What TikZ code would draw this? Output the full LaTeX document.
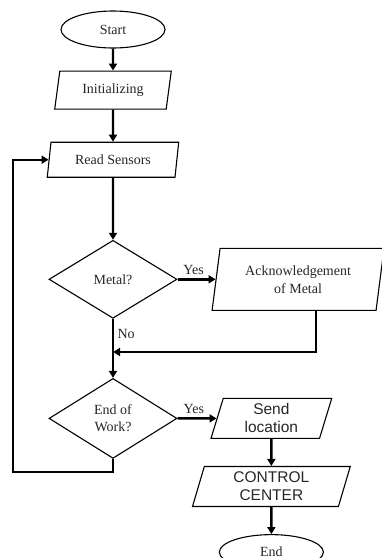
\documentclass[tikz,border=0pt]{standalone}
\usepackage{fontspec}
\setmainfont{Liberation Serif}
\newfontfamily\sansfont{Liberation Sans}
\usetikzlibrary{positioning, arrows.meta, shapes.geometric}

\begin{document}
\begin{tikzpicture}[x=1pt, y=1pt, node distance=30pt, auto,
    term/.style={ellipse, draw, line width=1.1pt, inner sep=0pt, minimum width=104pt, minimum height=37pt, text=black!85, font=\fontsize{14}{17}\selectfont},
    io/.style={trapezium, trapezium left angle=77, trapezium right angle=103, trapezium stretches=true, draw, line width=1.1pt, inner sep=0pt, align=center, text=black!85, font=\fontsize{14}{18}\selectfont},
    decide/.style={diamond, draw, line width=1.1pt, inner sep=0pt, minimum width=128pt, minimum height=78pt, align=center, text=black!85, font=\fontsize{14}{17}\selectfont},
    line/.style={draw, line width=2.4pt, -{Triangle[length=7pt,width=8pt]}},
    lbl/.style={text=black!85, font=\fontsize{14}{17}\selectfont}
]
    \useasboundingbox (0,0) rectangle (382,-558);

    \node[term] (start) at (113,-29.5) {Start};
    \node[io, minimum width=117pt, minimum height=38pt, below=22pt of start] (init) {Initializing};
    \node[io, minimum width=132pt, minimum height=35pt, below=32pt of init] (read) {Read Sensors};
    \node[decide, below=62pt of read] (metal) {Metal?};
    \node[io, minimum width=172pt, minimum height=62pt, trapezium left angle=79, trapezium right angle=101, right=38pt of metal] (ack) {Acknowledgement\\of Metal};
    \node[decide, minimum height=80pt, below=59pt of metal] (work) {End of\\Work?};
    \node[io, minimum width=121pt, minimum height=40pt, font=\sansfont\fontsize{15.5}{18}\selectfont, right=39pt of work] (send) {Send\\location};
    \node[io, minimum width=158pt, minimum height=40pt, font=\sansfont\fontsize{15.5}{18}\selectfont, below=27pt of send] (ctrl) {CONTROL\\CENTER};
    \node[term, minimum height=35pt, below=27pt of ctrl] (end) {End};

    \coordinate (join) at (metal.center |- 0,-352);
    \coordinate (back) at (13,-472);

    \draw[line] (start) -- (init);
    \draw[line] (init) -- (read);
    \draw[line] (read) -- (metal);
    \draw[line] (metal) -- node[lbl, pos=0.42] {Yes} (ack);
    \draw[line] (metal) -- node[lbl, pos=0.25] {No} (work);
    \draw[line] ([xshift=18pt]ack.south) |- (join);
    \draw[line] (work) -- node[lbl, pos=0.42] {Yes} (send);
    \draw[line] (send) -- (ctrl);
    \draw[line] (ctrl) -- (end);
    \draw[line] (work.south) |- (back) |- (read.west);
\end{tikzpicture}
\end{document}
